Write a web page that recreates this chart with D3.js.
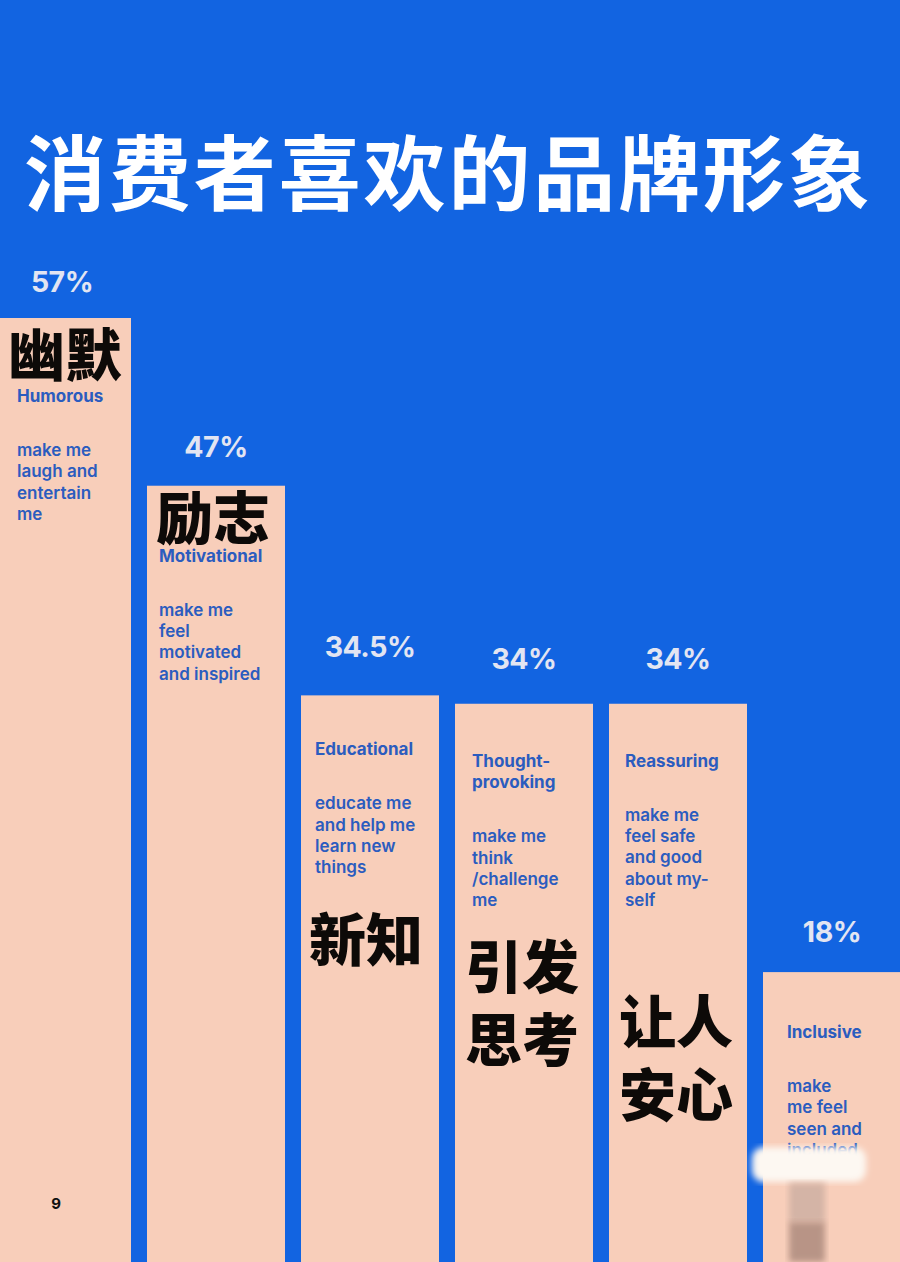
<!DOCTYPE html>
<html>
<head>
<meta charset="utf-8">
<script src="https://cdn.jsdelivr.net/npm/d3@7"></script>
<style>
  html, body { margin: 0; padding: 0; background: #1264e1; }
  svg { display: block; }
</style>
</head>
<body>
<script>
// ---- data ----
const title = "消费者喜欢的品牌形象";
const categories = ["Humorous", "Motivational", "Educational", "Thought-provoking", "Reassuring", "Inclusive"];
const values = [57, 47, 34.5, 34, 34, 18];
const valueLabels = ["57%", "47%", "34.5%", "34%", "34%", "18%"];
const cnLabels = [["幽默"], ["励志"], ["新知"], ["引发", "思考"], ["让人", "安心"], []];
const headLines = [["Humorous"], ["Motivational"], ["Educational"], ["Thought-", "provoking"], ["Reassuring"], ["Inclusive"]];
const bodyLines = [
  ["make me", "laugh and", "entertain", "me"],
  ["make me", "feel", "motivated", "and inspired"],
  ["educate me", "and help me", "learn new", "things"],
  ["make me", "think", "/challenge", "me"],
  ["make me", "feel safe", "and good", "about my-", "self"],
  ["make", "me feel", "seen and", "included"]
];
const pageNumber = "9";

// ---- layout (text placement inside bars) ----
const textDx = [24, 12, 14, 17, 16, 24];
const headDy = [84, 76, 60, 63, 63, 66];
const labelDy = [26, 29, 38, 35, 35, 30];
const cnDx = [15, 9, 8, 10, 10, 0];
const cnDy = [58, 53, 266, 284, 339, 0];

const W = 900, H = 1262;
const BLUE = "#1264e1", PEACH = "#f8ceba", TEXTBLUE = "#2b5cbf", LABEL = "#e2e5f2";

const svg = d3.select("body").append("svg").attr("width", W).attr("height", H);
svg.append("rect").attr("width", W).attr("height", H).attr("fill", BLUE);

const x = d3.scaleBand().domain(categories).range([-7, 901]).paddingInner(16 / 154).paddingOuter(0);
const y = d3.scaleLinear().domain([0, 57]).range([1274, 318]);

// title
svg.append("text")
  .attr("x", 24).attr("y", 204)
  .attr("textLength", 846).attr("lengthAdjust", "spacing")
  .attr("font-family", "'Noto Sans CJK SC', sans-serif")
  .attr("font-weight", 700).attr("font-size", 82)
  .attr("fill", "#ffffff")
  .text(title);

const idx = d3.range(categories.length);

// bars
svg.append("g").selectAll("rect").data(idx).join("rect")
  .attr("x", i => x(categories[i]))
  .attr("y", i => y(values[i]))
  .attr("width", x.bandwidth())
  .attr("height", i => y(0) - y(values[i]))
  .attr("fill", PEACH);

// value labels
svg.append("g").selectAll("text").data(idx).join("text")
  .attr("x", i => x(categories[i]) + x.bandwidth() / 2)
  .attr("y", i => y(values[i]) - labelDy[i])
  .attr("text-anchor", "middle")
  .attr("font-family", "Inter, sans-serif")
  .attr("font-weight", 700).attr("font-size", 28.5)
  .attr("letter-spacing", -0.5)
  .attr("fill", LABEL)
  .text(i => valueLabels[i]);

// in-bar text
idx.forEach(i => {
  const bx = x(categories[i]) + textDx[i];
  const top = y(values[i]);
  const g = svg.append("g");
  cnLabels[i].forEach((t, k) => {
    g.append("text").attr("x", x(categories[i]) + cnDx[i]).attr("y", top + cnDy[i] + k * 73)
      .attr("font-family", "'Noto Sans CJK SC', sans-serif").attr("font-weight", 900)
      .attr("font-size", 57).attr("fill", "#0d0a08").text(t);
  });
  headLines[i].forEach((t, k) => {
    g.append("text").attr("x", bx).attr("y", top + headDy[i] + k * 21.5)
      .attr("font-family", "Inter, sans-serif").attr("font-weight", 700)
      .attr("font-size", 17).attr("fill", TEXTBLUE).text(t);
  });
  const bodyStart = top + headDy[i] + (headLines[i].length - 1) * 21.5 + 54;
  bodyLines[i].forEach((t, k) => {
    g.append("text").attr("x", bx).attr("y", bodyStart + k * 21.3)
      .attr("font-family", "Inter, sans-serif").attr("font-weight", 600)
      .attr("font-size", 17).attr("fill", TEXTBLUE).text(t);
  });
});

// page number
svg.append("text").attr("x", 56).attr("y", 1209).attr("text-anchor", "middle")
  .attr("font-family", "Inter, sans-serif").attr("font-weight", 700)
  .attr("font-size", 15).attr("fill", "#111").text(pageNumber);

// watermark smudge (bottom right)
const defs = svg.append("defs");
defs.append("filter").attr("id", "blur").append("feGaussianBlur").attr("stdDeviation", 3);
svg.append("rect").attr("x", 752).attr("y", 1147).attr("width", 114).attr("height", 35).attr("rx", 12)
  .attr("fill", "#fdf8f2").attr("filter", "url(#blur)");
svg.append("rect").attr("x", 789).attr("y", 1183).attr("width", 36).attr("height", 40)
  .attr("fill", "#d4b4a6").attr("filter", "url(#blur)");
svg.append("rect").attr("x", 789).attr("y", 1222).attr("width", 36).attr("height", 40)
  .attr("fill", "#b89486").attr("filter", "url(#blur)");
</script>
</body>
</html>
